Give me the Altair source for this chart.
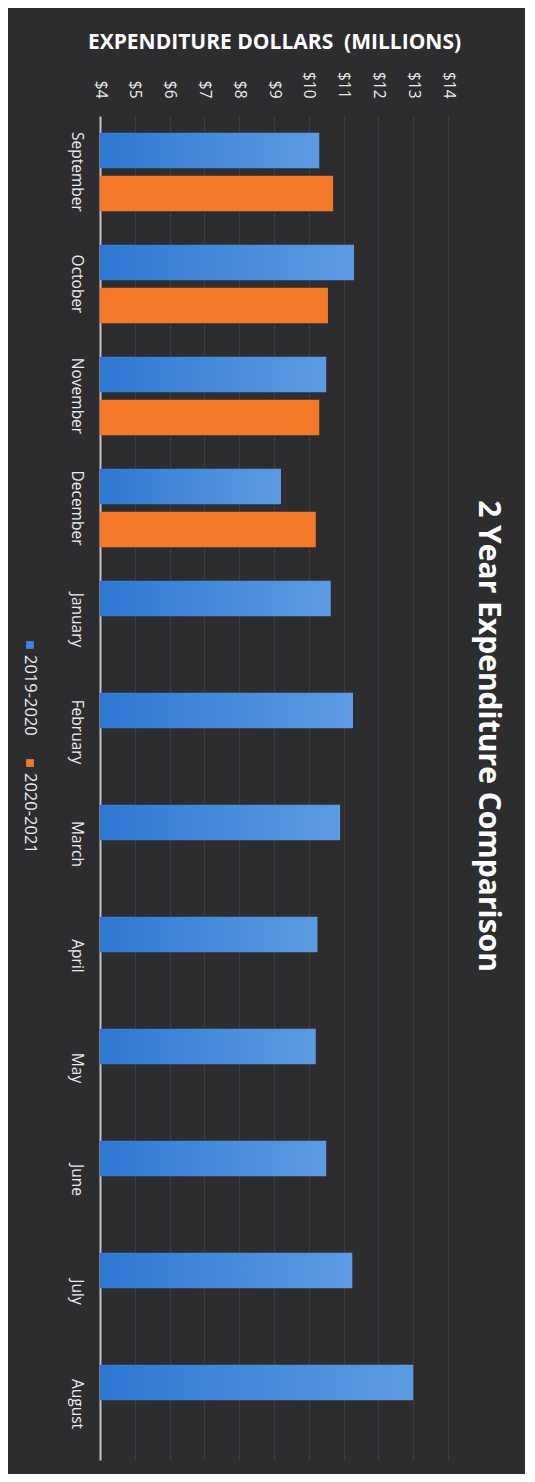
import altair as alt
import pandas as pd

months = ["September", "October", "November", "December", "January", "February",
          "March", "April", "May", "June", "July", "August"]
series_names = ["2019-2020", "2020-2021"]
values_2019_2020 = [10.3, 11.3, 10.5, 9.2, 10.63, 11.27, 10.9, 10.25, 10.2, 10.5, 11.25, 13.0]
values_2020_2021 = [10.7, 10.55, 10.3, 10.2]
tick_values = [4, 5, 6, 7, 8, 9, 10, 11, 12, 13, 14]

rows = []
for m, v in zip(months, values_2019_2020):
    rows.append({"month": m, "series": series_names[0], "value": v})
for m, v in zip(months, values_2020_2021):
    rows.append({"month": m, "series": series_names[1], "value": v})
df = pd.DataFrame(rows)

BG = "#2d2c2f"
FONT = "Open Sans"
TXT = "#ececec"

x_enc = alt.X(
    "value:Q",
    scale=alt.Scale(domain=[4, 14], nice=False, zero=False),
    axis=alt.Axis(
        orient="top", values=tick_values, labelExpr="'$' + datum.value",
        labelAngle=90, labelAlign="right", labelBaseline="middle",
        labelFontSize=15.5, labelColor=TXT, labelFont=FONT, labelPadding=18,
        ticks=False, domain=False, grid=True, gridColor="#403e42", gridWidth=1,
        title="EXPENDITURE DOLLARS \u00a0(MILLIONS)", titleFont=FONT, titleFontSize=21,
        titleFontWeight="bold", titleColor="#ffffff", titlePadding=19,
    ),
)
y_enc = alt.Y(
    "month:N", sort=months,
    scale=alt.Scale(domain=months, paddingInner=0.3, paddingOuter=0.15),
    axis=alt.Axis(
        orient="left", title=None, labelAngle=90, labelAlign="center",
        labelBaseline="top", labelFontSize=15.5, labelColor=TXT, labelFont=FONT,
        labelPadding=17, ticks=False, domain=True, domainColor="#c4c4c4",
        domainWidth=2, grid=False,
    ),
)
yoff = alt.YOffset("series:N", scale=alt.Scale(domain=series_names, paddingInner=0.17, paddingOuter=0))

blue_grad = alt.Gradient(gradient="linear", x1=0, x2=1, y1=0, y2=0,
                         stops=[alt.GradientStop(color="#2f78d4", offset=0),
                                alt.GradientStop(color="#5d9be2", offset=1)])

blue = alt.Chart(df).transform_filter(alt.datum.series == series_names[0]).mark_bar(
    fill=blue_grad).encode(x=x_enc, x2=alt.datum(4), y=y_enc, yOffset=yoff)
orange = alt.Chart(df).transform_filter(alt.datum.series == series_names[1]).mark_bar(
    color="#f47a2a").encode(x=x_enc, x2=alt.datum(4), y=y_enc, yOffset=yoff)

legend_layers = []
legend_colors = ["#3d86dc", "#f47a2a"]
legend_y = [539, 657]
for name, col, ly in zip(series_names, legend_colors, legend_y):
    d = pd.DataFrame({"s": [name]})
    legend_layers.append(alt.Chart(d).mark_square(size=60, color=col, opacity=1).encode(
        x=alt.value(-70), y=alt.value(ly - 10)))
    legend_layers.append(alt.Chart(d).mark_text(
        angle=90, align="left", baseline="middle", fontSize=16.5, font=FONT, color=TXT
    ).encode(x=alt.value(-70), y=alt.value(ly), text="s:N"))

chart = alt.layer(blue, orange, *legend_layers).properties(
    width=348, height=1344,
    background=BG,
    padding={"left": 92, "top": 108, "right": 77, "bottom": 14},
    autosize=alt.AutoSizeParams(type="none"),
    title=alt.TitleParams(
        "2 Year Expenditure Comparison", orient="right", anchor="middle",
        fontSize=30, font=FONT, fontWeight="bold", color="#ffffff", offset=12, dx=-52,
    ),
).configure_view(stroke=None).configure_axis(labelOverlap=False)

chart.save("out.html", embed_options={"renderer": "svg", "actions": False})
